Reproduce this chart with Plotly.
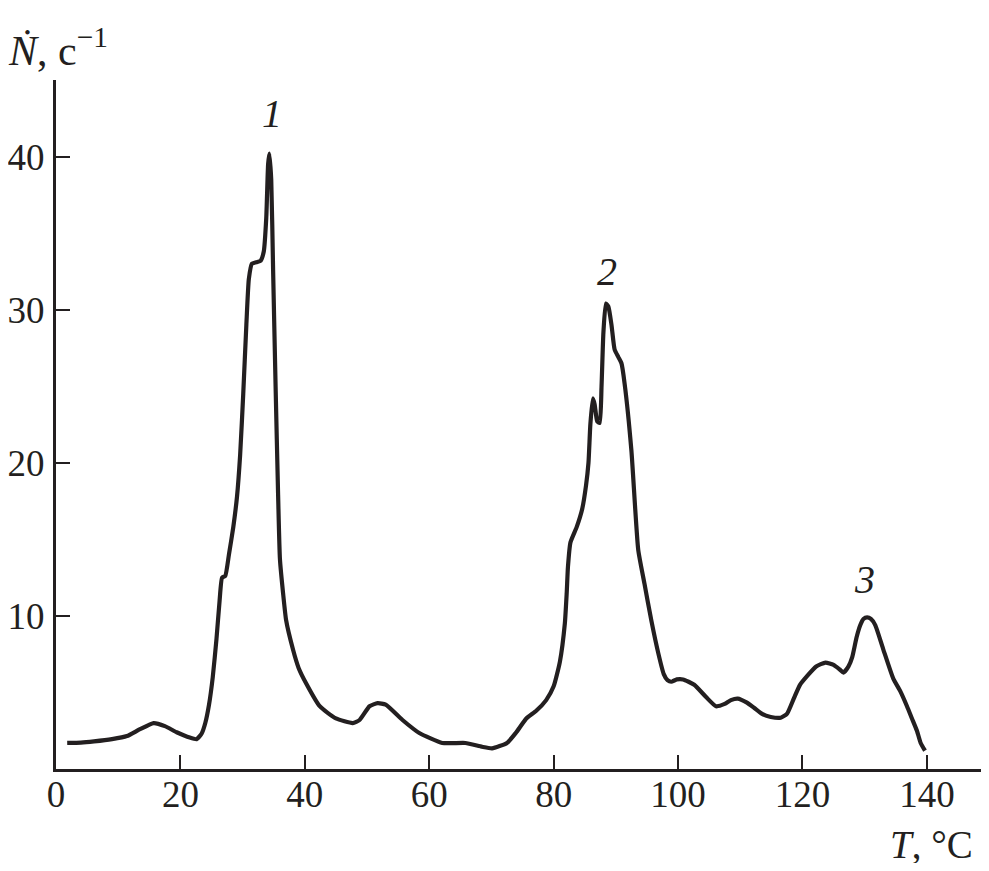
import plotly.graph_objects as go

T = [1.8, 4, 6.1, 9, 11.4, 13.5, 15.7, 17.5, 19.4, 21.5, 22.6, 23.4, 24.0, 24.6, 25.2, 25.8,
     26.3, 26.7, 27.2, 27.8, 28.5, 29.1, 29.6, 30.1, 30.6, 31.0, 31.5, 32.2, 32.9, 33.4, 33.8,
     34.1, 34.3, 34.6, 34.9, 35.3, 35.7, 36.0, 36.5, 37.0, 38.1, 39.0, 40.2, 42.4, 45.0, 47.7,
     48.8, 50.4, 51.7, 53.0, 55.7, 58.4, 62.1, 65.8, 68.5, 70.1, 72.5, 74.0, 75.6, 77.2, 78.8,
     80.0, 81.0, 81.8, 82.1, 82.3, 82.7, 83.7, 84.6, 85.2, 85.6, 85.9, 86.3, 86.6, 87.0, 87.4,
     87.7, 88.0, 88.4, 88.8, 89.3, 89.8, 90.4, 90.9, 91.4, 92.5, 93.6, 94.6, 95.7, 96.8, 97.7,
     98.3, 98.9, 99.8, 100.8, 102.6, 104.5, 106.1, 107.5, 108.5, 109.6, 111.0, 112.2, 113.5,
     114.9, 116.5, 117.5, 118.6, 119.6, 120.8, 122.2, 123.7, 125.0, 126.0, 126.6, 127.4, 128.0,
     128.7, 129.3, 129.8, 130.4, 131.0, 131.7, 133.0, 134.6, 135.7, 136.8, 137.6, 138.4, 139.0,
     139.7]
N = [1.7, 1.72, 1.8, 1.95, 2.15, 2.6, 3.0, 2.8, 2.4, 2.05, 1.95, 2.3, 3.0, 4.2, 6.0, 8.5,
     11.0, 12.5, 12.6, 14.0, 15.8, 17.8, 20.5, 24.5, 29.0, 32.0, 33.0, 33.1, 33.2, 33.8, 36.0,
     39.5, 40.2, 38.5, 32.6, 25.0, 18.0, 13.7, 11.5, 9.7, 7.8, 6.6, 5.6, 4.1, 3.3, 3.0,
     3.2, 4.1, 4.3, 4.2, 3.2, 2.35, 1.7, 1.7, 1.45, 1.35, 1.7, 2.4, 3.3, 3.8, 4.5,
     5.4, 7.0, 9.5, 11.5, 13.2, 14.8, 15.8, 17.0, 18.5, 20.0, 22.5, 24.2, 23.8, 22.7, 22.6,
     25.0, 28.5, 30.4, 30.2, 29.0, 27.4, 26.9, 26.5, 25.2, 20.8, 14.3, 12.1, 9.7, 7.6, 6.2,
     5.8, 5.7, 5.85, 5.85, 5.5, 4.7, 4.1, 4.25, 4.5, 4.6, 4.35, 4.0, 3.6,
     3.4, 3.35, 3.6, 4.6, 5.5, 6.1, 6.7, 6.95, 6.8, 6.5, 6.3, 6.7, 7.3,
     8.6, 9.4, 9.8, 9.9, 9.8, 9.4, 7.8, 5.9, 5.1, 4.1, 3.3, 2.5, 1.7,
     1.2]

x_ticks = [0, 20, 40, 60, 80, 100, 120, 140]
y_ticks = [10, 20, 30, 40]
peak_labels = ["1", "2", "3"]
peak_T = [34.8, 88.5, 129.9]
peak_N = [42.8, 32.5, 12.4]

INK = "#231f20"
FONT = "Liberation Serif"

fig = go.Figure()
fig.add_trace(go.Scatter(x=T, y=N, mode="lines",
                         line=dict(color=INK, width=4.2, shape="spline", smoothing=0.5),
                         showlegend=False, hoverinfo="skip"))

for lab, tx, ny in zip(peak_labels, peak_T, peak_N):
    fig.add_annotation(x=tx, y=ny, xref="x", yref="y", text=f"<i>{lab}</i>",
                       showarrow=False, font=dict(family=FONT, size=40, color=INK))

fig.add_annotation(x=-0.054, y=1.047, xref="paper", yref="paper", xanchor="left", yanchor="middle",
                   text="<i>Ṅ</i>, c<sup>−1</sup>", showarrow=False,
                   font=dict(family=FONT, size=42, color=INK))
fig.add_annotation(x=0.994, y=-0.11, xref="paper", yref="paper", xanchor="right", yanchor="middle",
                   text="<i>T</i>, °C", showarrow=False,
                   font=dict(family=FONT, size=39, color=INK))

fig.update_xaxes(range=[0, 148.7], tickvals=x_ticks, ticktext=[str(v) for v in x_ticks],
                 ticks="inside", ticklen=14, tickwidth=2, tickcolor=INK,
                 showline=True, linewidth=3, linecolor=INK, showgrid=False, zeroline=False,
                 ticklabelstandoff=-9,
                 tickfont=dict(family=FONT, size=37, color=INK))
fig.update_yaxes(range=[0, 45], tickvals=y_ticks, ticktext=[str(v) for v in y_ticks],
                 ticks="inside", ticklen=14, tickwidth=2, tickcolor=INK,
                 showline=True, linewidth=3, linecolor=INK, showgrid=False, zeroline=False,
                 ticklabelstandoff=1,
                 tickfont=dict(family=FONT, size=37, color=INK))

# the page body has an 8px margin on every side: size the figure so it fits inside the
# visible page and the plot area lands where the reference has it
fig.update_layout(width=973, height=855, margin=dict(l=44, r=0, t=72, b=94),
                  plot_bgcolor="white", paper_bgcolor="white")

fig.write_html("out.html")
